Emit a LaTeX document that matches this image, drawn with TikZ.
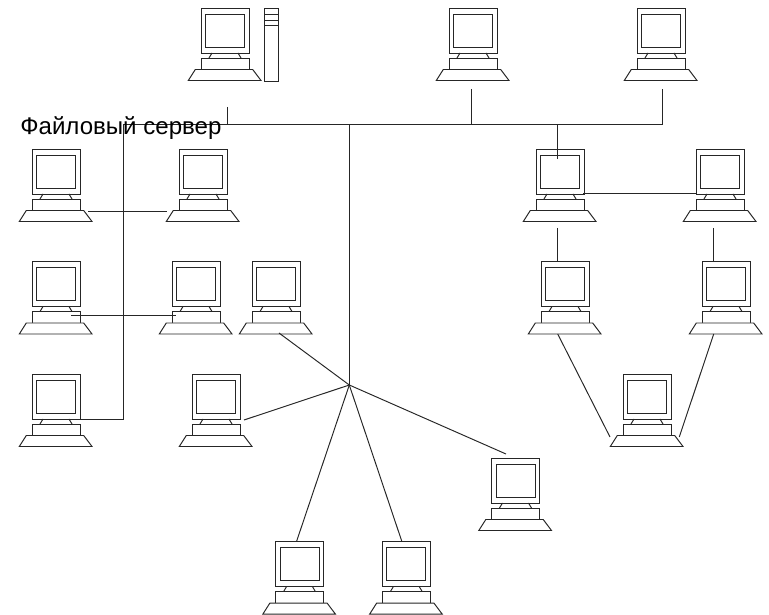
\documentclass[tikz,border=0pt]{standalone}
\usepackage{fontspec}
\setmainfont{Liberation Sans}
\tikzset{
    wire/.style={line width=.55pt,draw=black!85},
    computer/.pic={
        \draw[wire,fill=white] (0,0) rectangle (48,45);
        \draw[wire] (4.5,6) rectangle (43.5,39);
        \draw[wire] (11,45) -- (8,50) (37,45) -- (40,50);
        \draw[wire,fill=white] (0,50) rectangle (48,61.5);
        \draw[wire,fill=white] (-5.7,61.5) -- (51.7,61.5) -- (60,72.5) -- (-12.7,72.5) -- cycle;
    }
}
\begin{document}
\begin{tikzpicture}[x=.02cm,y=-.02cm]
    \useasboundingbox (0,0) rectangle (769,615);
    % computers
    \foreach \n/\x/\y in {srv/201/8,topa/449/8,topb/637/8,
        la/32/149,lb/179/149,ra/536/149,rb/696/149,
        lc/32/261.5,ld/172/261.5,le/252/261.5,rc/541/261.5,rd/702/261.5,
        lf/32/374,sa/192/374,re/623/374,sb/491.5/458,sc/275.5/541.7,sd/382.3/541.7}
        \pic (\n) at (\x,\y) {computer};
    % tower of the server
    \draw[wire] (264.5,8) rectangle (278,81);
    \foreach \y in {14,20,25}
        \draw[wire] (264.5,\y) -- (278,\y);
    % ends of the wires
    \coordinate (busl) at (123.5,124.3);
    \coordinate (busr) at (662,124.3);
    \coordinate (srvt) at (227,107);
    \coordinate (srvb) at (227,124.3);
    \coordinate (topat) at (471,89);
    \coordinate (topab) at (471,124.3);
    \coordinate (topbt) at (662,89);
    \coordinate (hubt) at (349.3,124.3);
    \coordinate (hub) at (349.3,385);
    \coordinate (rat) at (557.7,124.3);
    \coordinate (rab) at (557.7,159);
    \coordinate (lfa) at (123.5,419.7);
    \coordinate (lfb) at (80,419.7);
    \coordinate (laa) at (88,211);
    \coordinate (lab) at (167,211);
    \coordinate (lca) at (71,315.7);
    \coordinate (lcb) at (175.7,315.7);
    \coordinate (raa) at (583.3,193.7);
    \coordinate (rba) at (696,193.7);
    \coordinate (rac) at (557.7,228);
    \coordinate (rca) at (557.7,262);
    \coordinate (rbc) at (713.7,228);
    \coordinate (rda) at (713.7,262);
    \coordinate (rcb) at (557.7,334);
    \coordinate (rea) at (610,437);
    \coordinate (rdb) at (713.7,334);
    \coordinate (reb) at (679.3,437);
    \coordinate (lea) at (279,333);
    \coordinate (saa) at (244,420);
    \coordinate (sba) at (506,454);
    \coordinate (sca) at (296.7,541);
    \coordinate (sda) at (401.7,541);
    % wires
    \draw[wire] (lfb) -- (lfa) -- (busl) -- (busr) -- (topbt);
    \draw[wire] (srvt) -- (srvb);
    \draw[wire] (topat) -- (topab);
    \draw[wire] (hubt) -- (hub);
    \draw[wire] (rat) -- (rab);
    \draw[wire] (laa) -- (lab);
    \draw[wire] (lca) -- (lcb);
    \draw[wire] (raa) -- (rba);
    \draw[wire] (rac) -- (rca);
    \draw[wire] (rbc) -- (rda);
    \draw[wire] (rcb) -- (rea);
    \draw[wire] (rdb) -- (reb);
    \foreach \e in {lea,saa,sba,sca,sda}
        \draw[wire] (hub) -- (\e);
    \node[anchor=base west,inner sep=0pt,font=\fontsize{13.7}{16}\selectfont] (srvlabel) at (20,135) {Файловый сервер};
\end{tikzpicture}
\end{document}
